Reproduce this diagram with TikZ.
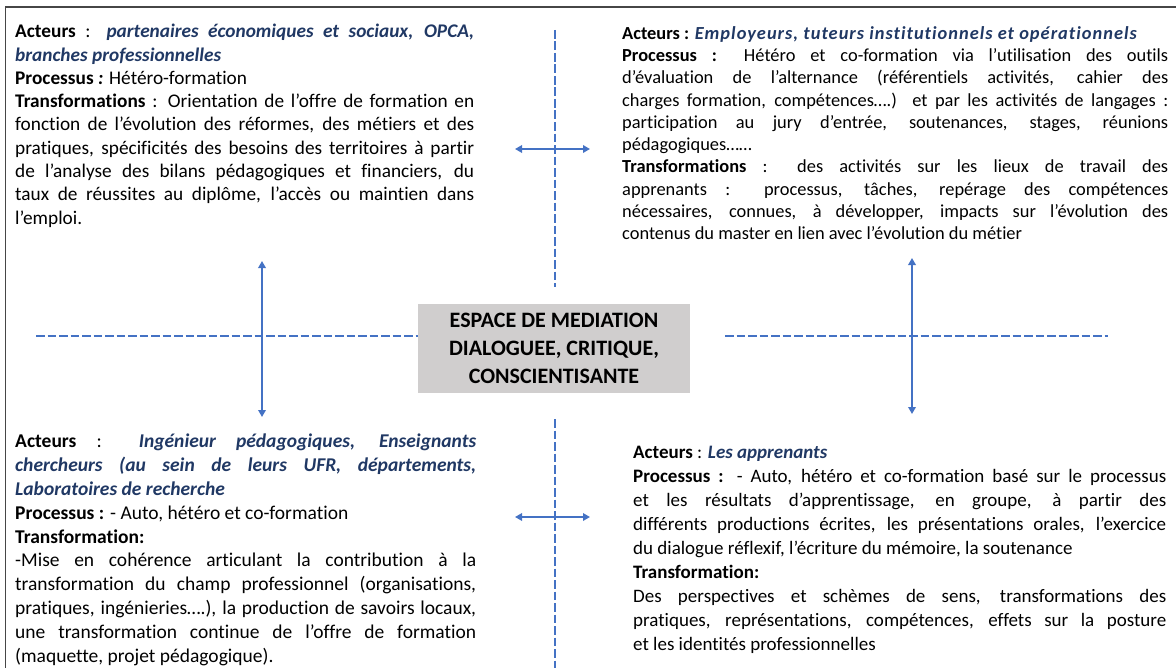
\documentclass[tikz,border=0pt]{standalone}
\usepackage{fontspec}
\setmainfont{Carlito}[Ligatures={NoCommon}]
\usetikzlibrary{arrows.meta}
\definecolor{lineblue}{RGB}{68,114,196}
\definecolor{navy}{RGB}{32,56,100}
\definecolor{boxgray}{RGB}{208,206,206}
\definecolor{framegray}{RGB}{70,70,70}
\newcommand{\actr}[1]{{\color{navy}\bfseries\itshape #1}}
\newcommand{\actrwide}[1]{{\color{navy}\bfseries\itshape\addfontfeature{LetterSpace=5.5}#1}}
\hbadness=10000
\hfuzz=30pt
\begin{document}
\begin{tikzpicture}[x=1bp,y=-1bp,
  txt/.style 2 args={anchor=north west, inner sep=0pt, align=justify,
    font=\fontsize{#1}{#2}\selectfont,
    execute at begin node={\setlength{\parindent}{0pt}\setlength{\parskip}{0pt}}},
  centerbox/.style={fill=boxgray, inner sep=0pt, minimum width=272bp, minimum height=89bp,
    align=center, font=\bfseries\fontsize{22bp}{28bp}\selectfont},
  dashline/.style={draw=lineblue, line width=2.4bp, dash pattern=on 8.7bp off 2.8bp},
  dblarrow/.style={draw=lineblue, line width=2.2bp, {Triangle[length=7bp,width=7.5bp]}-{Triangle[length=7bp,width=7.5bp]}},
  frame/.style={draw=framegray, line width=1.5bp}
]
\useasboundingbox (0,0) rectangle (1176,668);

% frame
\coordinate (fbl) at (5.5,668);
\coordinate (ftl) at (5.5,7);
\coordinate (ftr) at (1176,7);
\draw[frame] (fbl) -- (ftl) -- (ftr);

% center box
\node[centerbox] (center) at (554,348.5) {ESPACE DE MEDIATION\\DIALOGUEE, CRITIQUE,\\CONSCIENTISANTE};

% dashed axes
\coordinate (vt1) at (555,30);
\coordinate (vt2) at (555,287);
\coordinate (vb1) at (555,419);
\coordinate (vb2) at (555,668);
\coordinate (hl1) at (36,336);
\coordinate (hl2) at (418,336);
\coordinate (hr1) at (725,336);
\coordinate (hr2) at (1108,336);
\draw[dashline] (vt1) -- (vt2);
\draw[dashline] (vb1) -- (vb2);
\draw[dashline] (hl1) -- (hl2);
\draw[dashline] (hr1) -- (hr2);

% double arrows
\coordinate (at1) at (515,149);
\coordinate (at2) at (590,149);
\coordinate (ab1) at (515,517);
\coordinate (ab2) at (590,517);
\coordinate (al1) at (262,261);
\coordinate (al2) at (262,417);
\coordinate (ar1) at (912,258);
\coordinate (ar2) at (912,414);
\draw[dblarrow] (at1) -- (at2);
\draw[dblarrow] (ab1) -- (ab2);
\draw[dblarrow] (al1) -- (al2);
\draw[dblarrow] (ar1) -- (ar2);

% text blocks
\node[txt={19.3bp}{23.3bp}, text width=459bp] (tl) at (15,24) {%
\textbf{Acteurs} : \actr{partenaires économiques et sociaux, OPCA,}\linebreak
\actr{branches professionnelles}\par
\textbf{Processus \textit{:}} Hétéro-formation\par
\textbf{Transformations} : Orientation de l’offre de formation en\linebreak
fonction de l’évolution des réformes, des métiers et des\linebreak
pratiques, spécificités des besoins des territoires à partir\linebreak
de l’analyse des bilans pédagogiques et financiers, du\linebreak
taux de réussites au diplôme, l’accès ou maintien dans\linebreak
l’emploi.};

\node[txt={18.4bp}{22.3bp}, text width=546bp] (tr) at (622,26) {%
\textbf{Acteurs :} \actrwide{Employeurs, tuteurs institutionnels et opérationnels}\par
\textbf{Processus :} Hétéro et co-formation via l’utilisation des outils\linebreak
d’évaluation de l’alternance (référentiels activités, cahier des\linebreak
charges formation, compétences….) et par les activités de langages :\linebreak
participation au jury d’entrée, soutenances, stages, réunions\linebreak
pédagogiques……\par
\textbf{Transformations} : des activités sur les lieux de travail des\linebreak
apprenants : processus, tâches, repérage des compétences\linebreak
nécessaires, connues, à développer, impacts sur l’évolution des\linebreak
contenus du master en lien avec l’évolution du métier};

\node[txt={19.5bp}{23.8bp}, text width=461bp] (bl) at (15,434) {%
\textbf{Acteurs} : \actr{Ingénieur pédagogiques, Enseignants}\linebreak
\actr{chercheurs (au sein de leurs UFR, départements,}\linebreak
\actr{Laboratoires de recherche}\par
\textbf{Processus :} - Auto, hétéro et co-formation\par
\textbf{Transformation:}\par
-Mise en cohérence articulant la contribution à la\linebreak
transformation du champ professionnel (organisations,\linebreak
pratiques, ingénieries….), la production de savoirs locaux,\linebreak
une transformation continue de l’offre de formation\linebreak
(maquette, projet pédagogique).};

\node[txt={19bp}{24bp}, text width=533bp] (br) at (633,446) {%
\textbf{Acteurs} : \actr{Les apprenants}\par
\textbf{Processus :} - Auto, hétéro et co-formation basé sur le processus\linebreak
et les résultats d’apprentissage, en groupe, à partir des\linebreak
différents productions écrites, les présentations orales, l’exercice\linebreak
du dialogue réflexif, l’écriture du mémoire, la soutenance\par
\textbf{Transformation:}\par
Des perspectives et schèmes de sens, transformations des\linebreak
pratiques, représentations, compétences, effets sur la posture\linebreak
et les identités professionnelles};
\end{tikzpicture}
\end{document}
